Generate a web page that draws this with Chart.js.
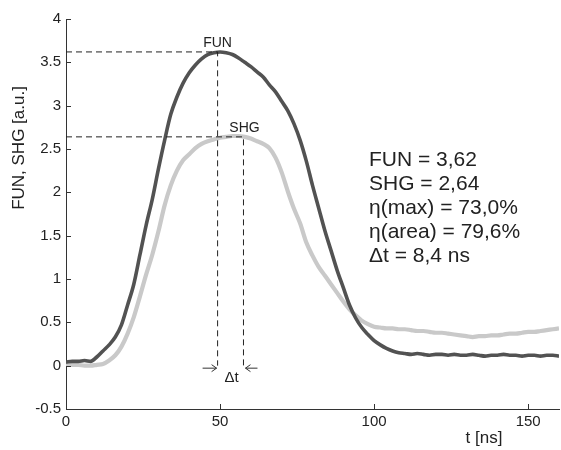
<!DOCTYPE html>
<html>
<head>
<meta charset="utf-8">
<script src="https://cdn.jsdelivr.net/npm/chart.js@4/dist/chart.umd.min.js"></script>
<style>
  html, body { margin: 0; padding: 0; background: #fff; }
  #wrap { width: 561px; height: 450px; }
</style>
</head>
<body>
<div id="wrap"><canvas id="c" width="561" height="450"></canvas></div>
<script>
// ── data ──
const time = [0, 2, 4, 6, 8, 10, 12, 14, 16, 18, 20, 22, 24, 26, 28, 30, 32, 34, 36, 38,
  40, 42, 44, 46, 48, 50, 52, 54, 56, 58, 60, 62, 64, 66, 68, 70, 72, 74, 76, 78,
  80, 82, 84, 86, 88, 90, 92, 94, 96, 98, 100, 102, 104, 106, 108, 110, 112, 114, 116, 118,
  120, 122, 124, 126, 128, 130, 132, 134, 136, 138, 140, 142, 144, 146, 148, 150, 152, 154, 156, 158, 160];

const fun = [0.04, 0.05, 0.05, 0.06, 0.05, 0.10, 0.17, 0.24, 0.33, 0.47, 0.70, 0.94, 1.28, 1.62, 1.92, 2.27, 2.60, 2.90, 3.10, 3.26,
  3.38, 3.47, 3.54, 3.59, 3.61, 3.62, 3.61, 3.59, 3.55, 3.50, 3.45, 3.39, 3.33, 3.24, 3.16, 3.05, 2.94, 2.79, 2.60, 2.36,
  2.08, 1.82, 1.56, 1.33, 1.10, 0.90, 0.70, 0.55, 0.44, 0.36, 0.29, 0.24, 0.20, 0.17, 0.15, 0.14, 0.13, 0.14, 0.13, 0.12,
  0.13, 0.13, 0.12, 0.13, 0.12, 0.12, 0.13, 0.12, 0.11, 0.12, 0.12, 0.13, 0.12, 0.12, 0.11, 0.12, 0.12, 0.11, 0.12, 0.12, 0.11];

const shg = [0.02, 0.01, 0.01, 0.00, 0.00, 0.01, 0.02, 0.06, 0.12, 0.22, 0.37, 0.56, 0.80, 1.05, 1.28, 1.55, 1.85, 2.08, 2.25, 2.37,
  2.44, 2.51, 2.56, 2.59, 2.61, 2.63, 2.64, 2.65, 2.65, 2.64, 2.62, 2.59, 2.56, 2.51, 2.40, 2.23, 2.01, 1.81, 1.64, 1.42,
  1.27, 1.14, 1.04, 0.94, 0.84, 0.74, 0.65, 0.58, 0.52, 0.48, 0.45, 0.44, 0.43, 0.43, 0.42, 0.42, 0.41, 0.40, 0.40, 0.39,
  0.38, 0.38, 0.37, 0.36, 0.35, 0.34, 0.33, 0.34, 0.34, 0.35, 0.35, 0.36, 0.37, 0.37, 0.38, 0.39, 0.39, 0.40, 0.41, 0.42, 0.43];

const funPeak = [49.2, 3.62];
const shgPeak = [57.6, 2.64];

const xTicks = [0, 50, 100, 150];
const yTicks = [-0.5, 0, 0.5, 1, 1.5, 2, 2.5, 3, 3.5, 4];

const resultLines = ['FUN = 3,62', 'SHG = 2,64', 'η(max) = 73,0%', 'η(area) = 79,6%', 'Δt = 8,4 ns'];

// ── helpers ──
const FONT = "'Liberation Sans', Arial, sans-serif";
const INK = '#222';
const toXY = (ys) => time.map((t, i) => ({ x: t, y: ys[i] }));
const guide = (p) => [{ x: 0, y: p[1] }, { x: p[0], y: p[1] }, { x: p[0], y: 0 }];

function arrow(ctx, x0, x1, y) {
  const dir = Math.sign(x1 - x0);
  ctx.beginPath();
  ctx.moveTo(x0, y); ctx.lineTo(x1, y);
  ctx.moveTo(x1 - dir * 5, y - 3.5); ctx.lineTo(x1, y); ctx.lineTo(x1 - dir * 5, y + 3.5);
  ctx.stroke();
}

const decor = {
  id: 'decor',
  afterDraw(chart) {
    const { ctx, chartArea: a, scales: { x, y } } = chart;
    ctx.save();
    // inward ticks
    ctx.strokeStyle = '#333';
    ctx.lineWidth = 1;
    ctx.beginPath();
    xTicks.forEach((v) => { const px = Math.round(x.getPixelForValue(v)) + 0.5; ctx.moveTo(px, a.bottom); ctx.lineTo(px, a.bottom - 5); });
    yTicks.forEach((v) => { const py = Math.round(y.getPixelForValue(v)) + 0.5; ctx.moveTo(a.left, py); ctx.lineTo(a.left + 5, py); });
    ctx.stroke();

    // peak labels
    ctx.fillStyle = INK;
    ctx.font = `14px ${FONT}`;
    ctx.textAlign = 'center';
    ctx.textBaseline = 'alphabetic';
    ctx.fillText('FUN', x.getPixelForValue(funPeak[0]), y.getPixelForValue(funPeak[1]) - 5);
    ctx.fillText('SHG', x.getPixelForValue(shgPeak[0]) + 1, y.getPixelForValue(shgPeak[1]) - 5);

    // Δt arrows
    const y0 = y.getPixelForValue(0) + 2.5;
    ctx.strokeStyle = '#333';
    arrow(ctx, x.getPixelForValue(funPeak[0]) - 15, x.getPixelForValue(funPeak[0]) - 1, y0);
    arrow(ctx, x.getPixelForValue(shgPeak[0]) + 14, x.getPixelForValue(shgPeak[0]) + 2, y0);
    ctx.font = `15px ${FONT}`;
    ctx.fillText('Δt', x.getPixelForValue((funPeak[0] + shgPeak[0]) / 2) + 1, y0 + 14);

    // result block
    ctx.textAlign = 'left';
    ctx.font = `21px ${FONT}`;
    resultLines.forEach((s, i) => ctx.fillText(s, 369, 166 + i * 24));

    // axis titles
    ctx.font = `17px ${FONT}`;
    ctx.textAlign = 'center';
    ctx.fillText('t [ns]', 484, 443);
    ctx.translate(24, 148);
    ctx.rotate(-Math.PI / 2);
    ctx.fillText('FUN, SHG [a.u.]', 0, 0);
    ctx.restore();
  },
};

new Chart(document.getElementById('c').getContext('2d'), {
  type: 'line',
  data: {
    datasets: [
      { label: 'FUN', data: toXY(fun), borderColor: '#525252', borderWidth: 3.6, pointRadius: 0, cubicInterpolationMode: 'monotone', order: 1 },
      { label: 'SHG', data: toXY(shg), borderColor: '#c9c9c9', borderWidth: 4.2, pointRadius: 0, cubicInterpolationMode: 'monotone', order: 2 },
      { label: 'FUN peak', data: guide(funPeak), borderColor: '#222', borderWidth: 1, borderDash: [6, 4], pointRadius: 0, order: 0 },
      { label: 'SHG peak', data: guide(shgPeak), borderColor: '#222', borderWidth: 1, borderDash: [6, 4], pointRadius: 0, order: 0 },
    ],
  },
  options: {
    responsive: false,
    animation: false,
    layout: { padding: { top: 19, right: 2, left: 0, bottom: 0 } },
    plugins: { legend: { display: false }, tooltip: { enabled: false } },
    scales: {
      x: {
        type: 'linear',
        min: 0,
        max: 160,
        afterBuildTicks: (s) => { s.ticks = xTicks.map((v) => ({ value: v })); },
        afterFit: (s) => { s.height = 41; },
        grid: { drawOnChartArea: false, drawTicks: false },
        border: { display: true, color: '#333', width: 1 },
        ticks: { color: INK, padding: 4, maxRotation: 0, font: { family: FONT, size: 15 }, callback: (v) => String(v) },
      },
      y: {
        type: 'linear',
        min: -0.5,
        max: 4,
        afterBuildTicks: (s) => { s.ticks = yTicks.map((v) => ({ value: v })); },
        afterFit: (s) => { s.width = 66; },
        grid: { drawOnChartArea: false, drawTicks: false },
        border: { display: true, color: '#333', width: 1 },
        ticks: { color: INK, padding: 5, font: { family: FONT, size: 15 }, callback: (v) => String(v) },
      },
    },
  },
  plugins: [decor],
});
</script>
</body>
</html>
